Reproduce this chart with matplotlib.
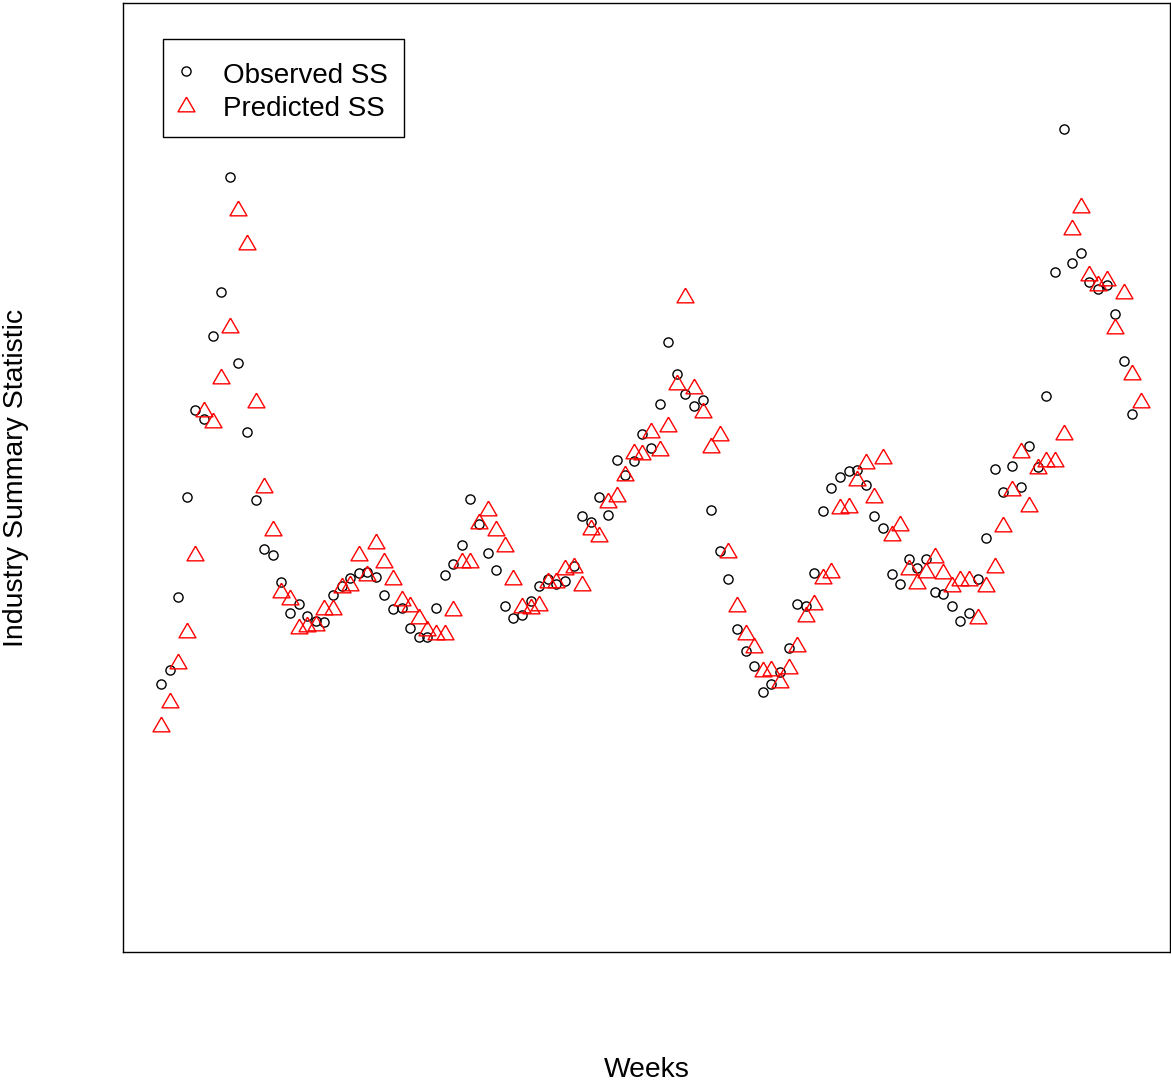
import matplotlib
matplotlib.use("Agg")
import matplotlib.pyplot as plt
from matplotlib.patches import Rectangle
import numpy as np

plt.rcParams['font.family'] = ['Liberation Sans', 'DejaVu Sans']

# Industry summary statistic per week (arbitrary units, no axis scale shown)
observed_ss = [
    268, 282, 355, 455, 542, 533, 616, 660, 775, 589,
    520, 452, 403, 397, 370, 339, 348, 336, 331, 330,
    357, 366, 374, 379, 380, 375, 357, 343, 344, 324,
    315, 315, 344, 377, 388, 407, 453, 428, 399, 382,
    346, 334, 337, 351, 366, 373, 368, 371, 386, 436,
    430, 455, 437, 492, 477, 491, 518, 504, 548, 610,
    578, 558, 546, 552, 442, 401, 373, 323, 301, 286,
    260, 268, 280, 304, 348, 346, 379, 441, 464, 475,
    481, 482, 467, 436, 424, 378, 368, 393, 384, 393,
    360, 358, 346, 331, 339, 373, 414, 483, 460, 486,
    465, 506, 485, 556, 680, 823, 689, 699, 670, 663,
    667, 638, 591, 538,
]

predicted_ss = [
    228, 252, 291, 322, 399, 543, 532, 576, 627, 744,
    710, 552, 467, 424, 362, 355, 326, 328, 329, 345,
    345, 367, 369, 399, 379, 411, 392, 375, 354, 348,
    336, 324, 320, 320, 344, 392, 392, 431, 444, 424,
    408, 375, 347, 346, 349, 372, 372, 385, 387, 369,
    425, 418, 452, 458, 479, 501, 500, 522, 504, 528,
    570, 657, 566, 542, 507, 519, 402, 348, 320, 307,
    283, 284, 272, 286, 308, 338, 350, 376, 382, 446,
    447, 474, 491, 457, 496, 419, 429, 385, 371, 382,
    397, 381, 368, 374, 374, 336, 368, 387, 428, 464,
    502, 448, 486, 493, 493, 520, 725, 747, 679, 669,
    674, 626, 661, 580, 552,
]

weeks_obs = np.arange(1, len(observed_ss) + 1)
weeks_pred = np.arange(1, len(predicted_ss) + 1)

# R style open triangle (pch = 2)
tri = [(0, 0.866), (-1, -0.866), (1, -0.866), (0, 0.866)]

fig = plt.figure(figsize=(11.71, 10.85), dpi=100)
ax = fig.add_axes([123 / 1171, 1 - 952 / 1085, 1047 / 1171, 949 / 1085])

ax.plot(weeks_obs, observed_ss, linestyle='none', marker='o', markersize=6.6,
        markerfacecolor='none', markeredgecolor='black', markeredgewidth=1.0,
        label='Observed SS')
ax.plot(weeks_pred, predicted_ss, linestyle='none', marker=tri, markersize=12.2,
        markerfacecolor='none', markeredgecolor='red', markeredgewidth=1.0,
        label='Predicted SS')

ax.set_xlim(-3.42, 118.38)
ax.set_ylim(0, 949)
ax.set_xticks([])
ax.set_yticks([])
for sp in ax.spines.values():
    sp.set_linewidth(1.0)
    sp.set_color('black')

ax.set_xlabel('Weeks', fontsize=20.3, va='center')
ax.xaxis.set_label_coords(0.5, (952 - 1070) / 949)
ax.set_ylabel('Industry Summary Statistic', fontsize=20.5, va='center')
ax.yaxis.set_label_coords((16 - 123) / 1047, 0.5)

# legend entries without frame, box drawn separately (R style)
leg = ax.legend(loc='upper left', bbox_to_anchor=(40 / 1047, 1 - 39.7 / 949),
                borderaxespad=0, fontsize=20, frameon=False, borderpad=0.6,
                handlelength=0.43, handleheight=1.17, handletextpad=1.14,
                labelspacing=0.13)
box = Rectangle((40 / 1047, (952 - 136.7) / 949), 241.3 / 1047, 97.7 / 949,
                transform=ax.transAxes, fill=False, edgecolor='black',
                linewidth=1.0, clip_on=False, zorder=5)
ax.add_patch(box)

fig.savefig('out.png', dpi=100)
